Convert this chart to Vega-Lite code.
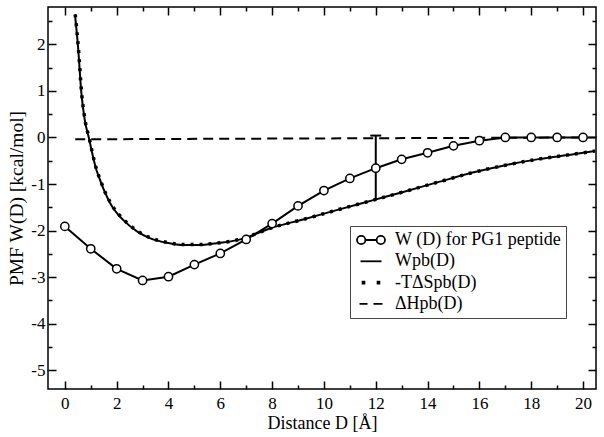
{
  "$schema": "https://vega.github.io/schema/vega-lite/v6.json",
  "width": 548,
  "height": 382,
  "autosize": {"type": "none"},
  "padding": {"left": 48, "top": 7, "right": 8, "bottom": 48},
  "background": "white",
  "config": {
    "font": "Liberation Serif",
    "view": {"stroke": "black", "strokeWidth": 1.5},
    "axis": {
      "labelFont": "Liberation Serif",
      "titleFont": "Liberation Serif",
      "labelColor": "black",
      "titleColor": "black",
      "titleFontWeight": "normal",
      "labelFontSize": 17,
      "titleFontSize": 18,
      "tickColor": "black",
      "tickWidth": 1.5,
      "domain": false,
      "grid": false
    }
  },
  "datasets": {
    "curves": [
      {"series": "W (D) for PG1 peptide", "D": 0, "W": -1.91},
      {"series": "W (D) for PG1 peptide", "D": 1, "W": -2.39},
      {"series": "W (D) for PG1 peptide", "D": 2, "W": -2.82},
      {"series": "W (D) for PG1 peptide", "D": 3, "W": -3.07},
      {"series": "W (D) for PG1 peptide", "D": 4, "W": -2.99},
      {"series": "W (D) for PG1 peptide", "D": 5, "W": -2.73},
      {"series": "W (D) for PG1 peptide", "D": 6, "W": -2.49},
      {"series": "W (D) for PG1 peptide", "D": 7, "W": -2.19},
      {"series": "W (D) for PG1 peptide", "D": 8, "W": -1.85},
      {"series": "W (D) for PG1 peptide", "D": 9, "W": -1.47},
      {"series": "W (D) for PG1 peptide", "D": 10, "W": -1.14},
      {"series": "W (D) for PG1 peptide", "D": 11, "W": -0.88},
      {"series": "W (D) for PG1 peptide", "D": 12, "W": -0.66},
      {"series": "W (D) for PG1 peptide", "D": 13, "W": -0.47},
      {"series": "W (D) for PG1 peptide", "D": 14, "W": -0.33},
      {"series": "W (D) for PG1 peptide", "D": 15, "W": -0.18},
      {"series": "W (D) for PG1 peptide", "D": 16, "W": -0.07},
      {"series": "W (D) for PG1 peptide", "D": 17, "W": 0.0},
      {"series": "W (D) for PG1 peptide", "D": 18, "W": 0.0},
      {"series": "W (D) for PG1 peptide", "D": 19, "W": 0.0},
      {"series": "W (D) for PG1 peptide", "D": 20, "W": 0.0},
      {"series": "Wpb(D)", "D": 0.39, "W": 2.64},
      {"series": "Wpb(D)", "D": 0.51, "W": 1.94},
      {"series": "Wpb(D)", "D": 0.64, "W": 0.94},
      {"series": "Wpb(D)", "D": 0.77, "W": 0.37},
      {"series": "Wpb(D)", "D": 0.94, "W": -0.04},
      {"series": "Wpb(D)", "D": 1.03, "W": -0.27},
      {"series": "Wpb(D)", "D": 1.09, "W": -0.42},
      {"series": "Wpb(D)", "D": 1.22, "W": -0.7},
      {"series": "Wpb(D)", "D": 1.35, "W": -0.9},
      {"series": "Wpb(D)", "D": 1.54, "W": -1.17},
      {"series": "Wpb(D)", "D": 1.74, "W": -1.4},
      {"series": "Wpb(D)", "D": 1.87, "W": -1.52},
      {"series": "Wpb(D)", "D": 2.25, "W": -1.77},
      {"series": "Wpb(D)", "D": 2.77, "W": -2.01},
      {"series": "Wpb(D)", "D": 3.28, "W": -2.16},
      {"series": "Wpb(D)", "D": 3.93, "W": -2.26},
      {"series": "Wpb(D)", "D": 4.57, "W": -2.31},
      {"series": "Wpb(D)", "D": 5.21, "W": -2.31},
      {"series": "Wpb(D)", "D": 5.86, "W": -2.27},
      {"series": "Wpb(D)", "D": 6.5, "W": -2.22},
      {"series": "Wpb(D)", "D": 7.0, "W": -2.15},
      {"series": "Wpb(D)", "D": 7.5, "W": -2.04},
      {"series": "Wpb(D)", "D": 7.93, "W": -1.95},
      {"series": "Wpb(D)", "D": 9.2, "W": -1.76},
      {"series": "Wpb(D)", "D": 10.49, "W": -1.56},
      {"series": "Wpb(D)", "D": 11.94, "W": -1.34},
      {"series": "Wpb(D)", "D": 13.06, "W": -1.17},
      {"series": "Wpb(D)", "D": 14.4, "W": -0.96},
      {"series": "Wpb(D)", "D": 15.7, "W": -0.76},
      {"series": "Wpb(D)", "D": 17.05, "W": -0.59},
      {"series": "Wpb(D)", "D": 18.34, "W": -0.46},
      {"series": "Wpb(D)", "D": 19.63, "W": -0.36},
      {"series": "Wpb(D)", "D": 20.46, "W": -0.29},
      {"series": "-TΔSpb(D)", "D": 0.4, "W": 2.64},
      {"series": "-TΔSpb(D)", "D": 0.52, "W": 1.94},
      {"series": "-TΔSpb(D)", "D": 0.65, "W": 0.94},
      {"series": "-TΔSpb(D)", "D": 0.78, "W": 0.37},
      {"series": "-TΔSpb(D)", "D": 0.95, "W": -0.04},
      {"series": "-TΔSpb(D)", "D": 1.04, "W": -0.27},
      {"series": "-TΔSpb(D)", "D": 1.1, "W": -0.42},
      {"series": "-TΔSpb(D)", "D": 1.23, "W": -0.7},
      {"series": "-TΔSpb(D)", "D": 1.36, "W": -0.9},
      {"series": "-TΔSpb(D)", "D": 1.55, "W": -1.17},
      {"series": "-TΔSpb(D)", "D": 1.75, "W": -1.39},
      {"series": "-TΔSpb(D)", "D": 1.88, "W": -1.51},
      {"series": "-TΔSpb(D)", "D": 2.26, "W": -1.76},
      {"series": "-TΔSpb(D)", "D": 2.78, "W": -2.0},
      {"series": "-TΔSpb(D)", "D": 3.28, "W": -2.15},
      {"series": "-TΔSpb(D)", "D": 3.93, "W": -2.25},
      {"series": "-TΔSpb(D)", "D": 4.57, "W": -2.3},
      {"series": "-TΔSpb(D)", "D": 5.21, "W": -2.3},
      {"series": "-TΔSpb(D)", "D": 5.86, "W": -2.27},
      {"series": "-TΔSpb(D)", "D": 6.5, "W": -2.22},
      {"series": "-TΔSpb(D)", "D": 7.0, "W": -2.15},
      {"series": "-TΔSpb(D)", "D": 7.5, "W": -2.04},
      {"series": "-TΔSpb(D)", "D": 7.93, "W": -1.95},
      {"series": "-TΔSpb(D)", "D": 9.2, "W": -1.76},
      {"series": "-TΔSpb(D)", "D": 10.49, "W": -1.56},
      {"series": "-TΔSpb(D)", "D": 11.94, "W": -1.34},
      {"series": "-TΔSpb(D)", "D": 13.06, "W": -1.17},
      {"series": "-TΔSpb(D)", "D": 14.4, "W": -0.96},
      {"series": "-TΔSpb(D)", "D": 15.7, "W": -0.76},
      {"series": "-TΔSpb(D)", "D": 17.05, "W": -0.59},
      {"series": "-TΔSpb(D)", "D": 18.34, "W": -0.46},
      {"series": "-TΔSpb(D)", "D": 19.63, "W": -0.36},
      {"series": "-TΔSpb(D)", "D": 20.46, "W": -0.29},
      {"series": "ΔHpb(D)", "D": 0.4, "W": -0.04},
      {"series": "ΔHpb(D)", "D": 20.5, "W": 0.0}
    ],
    "err": [
      {"D": 12, "lo": -1.34, "hi": 0.04}
    ]
  },
  "layer": [
    {
      "data": {"name": "curves"},
      "transform": [{"filter": "datum.series === 'W (D) for PG1 peptide'"}],
      "mark": {"type": "line", "stroke": "black", "strokeWidth": 2},
      "encoding": {
        "x": {
          "field": "D", "type": "quantitative",
          "scale": {"domain": [-0.65, 20.5], "nice": false, "zero": false},
          "axis": {
            "orient": "bottom",
            "title": "Distance D [Å]",
            "values": [0,1,2,3,4,5,6,7,8,9,10,11,12,13,14,15,16,17,18,19,20],
            "labelExpr": "datum.value % 2 ? '' : '' + datum.value",
            "tickSize": {"condition": {"test": "datum.value % 2", "value": -4}, "value": -8},
            "labelPadding": 14,
            "titlePadding": 3
          }
        },
        "y": {
          "field": "W", "type": "quantitative",
          "scale": {"domain": [-5.4, 2.8], "nice": false, "zero": false},
          "axis": {
            "orient": "left",
            "title": "PMF W(D) [kcal/mol]",
            "titleFontSize": 19.5,
            "values": [-5,-4.5,-4,-3.5,-3,-2.5,-2,-1.5,-1,-0.5,0,0.5,1,1.5,2,2.5],
            "labelExpr": "datum.value % 1 ? '' : (datum.value < 0 ? '-' + abs(datum.value) : '' + datum.value)",
            "tickSize": {"condition": {"test": "datum.value % 1", "value": -4}, "value": -8},
            "labelPadding": 11,
            "titlePadding": 4
          }
        }
      }
    },
    {
      "data": {"name": "curves"},
      "transform": [{"filter": "datum.series === 'Wpb(D)'"}],
      "mark": {"type": "line", "stroke": "black", "strokeWidth": 2, "interpolate": "monotone"},
      "encoding": {
        "x": {"field": "D", "type": "quantitative", "scale": {"domain": [-0.65, 20.5], "nice": false, "zero": false}, "axis": null},
        "y": {"field": "W", "type": "quantitative", "scale": {"domain": [-5.4, 2.8], "nice": false, "zero": false}, "axis": null}
      }
    },
    {
      "data": {"name": "curves"},
      "transform": [{"filter": "datum.series === '-TΔSpb(D)'"}],
      "mark": {"type": "line", "stroke": "black", "strokeWidth": 3.5, "strokeDash": [3, 6], "interpolate": "monotone"},
      "encoding": {
        "x": {"field": "D", "type": "quantitative", "scale": {"domain": [-0.65, 20.5], "nice": false, "zero": false}, "axis": null},
        "y": {"field": "W", "type": "quantitative", "scale": {"domain": [-5.4, 2.8], "nice": false, "zero": false}, "axis": null}
      }
    },
    {
      "data": {"name": "curves"},
      "transform": [{"filter": "datum.series === 'ΔHpb(D)'"}],
      "mark": {"type": "line", "stroke": "black", "strokeWidth": 2, "strokeDash": [10, 6]},
      "encoding": {
        "x": {"field": "D", "type": "quantitative", "scale": {"domain": [-0.65, 20.5], "nice": false, "zero": false}, "axis": null},
        "y": {"field": "W", "type": "quantitative", "scale": {"domain": [-5.4, 2.8], "nice": false, "zero": false}, "axis": null}
      }
    },
    {
      "data": {"name": "err"},
      "mark": {"type": "rule", "stroke": "black", "strokeWidth": 2},
      "encoding": {
        "x": {"field": "D", "type": "quantitative", "scale": {"domain": [-0.65, 20.5], "nice": false, "zero": false}, "axis": null},
        "y": {"field": "lo", "type": "quantitative", "scale": {"domain": [-5.4, 2.8], "nice": false, "zero": false}, "axis": null},
        "y2": {"field": "hi"}
      }
    },
    {
      "data": {"name": "err"},
      "mark": {"type": "tick", "orient": "horizontal", "color": "black", "size": 11, "thickness": 2, "opacity": 1},
      "encoding": {
        "x": {"field": "D", "type": "quantitative", "scale": {"domain": [-0.65, 20.5], "nice": false, "zero": false}, "axis": null},
        "y": {"field": "hi", "type": "quantitative", "scale": {"domain": [-5.4, 2.8], "nice": false, "zero": false}, "axis": null}
      }
    },
    {
      "data": {"name": "curves"},
      "transform": [{"filter": "datum.series === 'W (D) for PG1 peptide'"}],
      "mark": {"type": "point", "shape": "circle", "filled": true, "fill": "white", "stroke": "black", "strokeWidth": 1.5, "size": 68, "opacity": 1},
      "encoding": {
        "x": {
          "field": "D", "type": "quantitative",
          "scale": {"domain": [-0.65, 20.5], "nice": false, "zero": false},
          "axis": {
            "orient": "top", "title": null, "labels": false,
            "values": [0,1,2,3,4,5,6,7,8,9,10,11,12,13,14,15,16,17,18,19,20],
            "tickSize": {"condition": {"test": "datum.value % 2", "value": -4}, "value": -8}
          }
        },
        "y": {
          "field": "W", "type": "quantitative",
          "scale": {"domain": [-5.4, 2.8], "nice": false, "zero": false},
          "axis": {
            "orient": "right", "title": null, "labels": false,
            "values": [-5,-4.5,-4,-3.5,-3,-2.5,-2,-1.5,-1,-0.5,0,0.5,1,1.5,2,2.5],
            "tickSize": {"condition": {"test": "datum.value % 1", "value": -4}, "value": -8}
          }
        }
      }
    },
    {
      "data": {"name": "curves"},
      "mark": {"type": "point", "filled": false, "opacity": 0, "stroke": "black"},
      "encoding": {
        "x": {"field": "D", "type": "quantitative", "scale": {"domain": [-0.65, 20.5], "nice": false, "zero": false}, "axis": null},
        "y": {"field": "W", "type": "quantitative", "scale": {"domain": [-5.4, 2.8], "nice": false, "zero": false}, "axis": null},
        "shape": {
          "field": "series", "type": "nominal",
          "scale": {
            "domain": ["W (D) for PG1 peptide", "Wpb(D)", "-TΔSpb(D)", "ΔHpb(D)"],
            "range": [
              "M0.2,0L1.8,0M0.2,0A0.6,0.6 0 1,0 -1,0A0.6,0.6 0 1,0 0.2,0M3,0A0.6,0.6 0 1,0 1.8,0A0.6,0.6 0 1,0 3,0",
              "M-0.5,0L2.5,0",
              "M-0.2,-0.13h0.26v0.26h-0.26zM1.94,-0.13h0.26v0.26h-0.26z",
              "M-0.64,0L0.5,0M1.36,0L2.64,0"
            ]
          },
          "legend": {
            "orient": "none",
            "legendX": 302,
            "legendY": 219,
            "title": null,
            "padding": 5,
            "strokeColor": "#444",
            "fillColor": "white",
            "symbolSize": 196,
            "symbolOpacity": 1,
            "symbolStrokeColor": "black",
            "symbolFillColor": "transparent",
            "symbolStrokeWidth": 1.8,
            "labelFont": "Liberation Serif",
            "labelFontSize": 18,
            "labelColor": "black",
            "labelOffset": 22,
            "labelLimit": 300,
            "rowPadding": 3.3
          }
        }
      }
    }
  ],
  "resolve": {"axis": {"x": "independent", "y": "independent"}}
}
